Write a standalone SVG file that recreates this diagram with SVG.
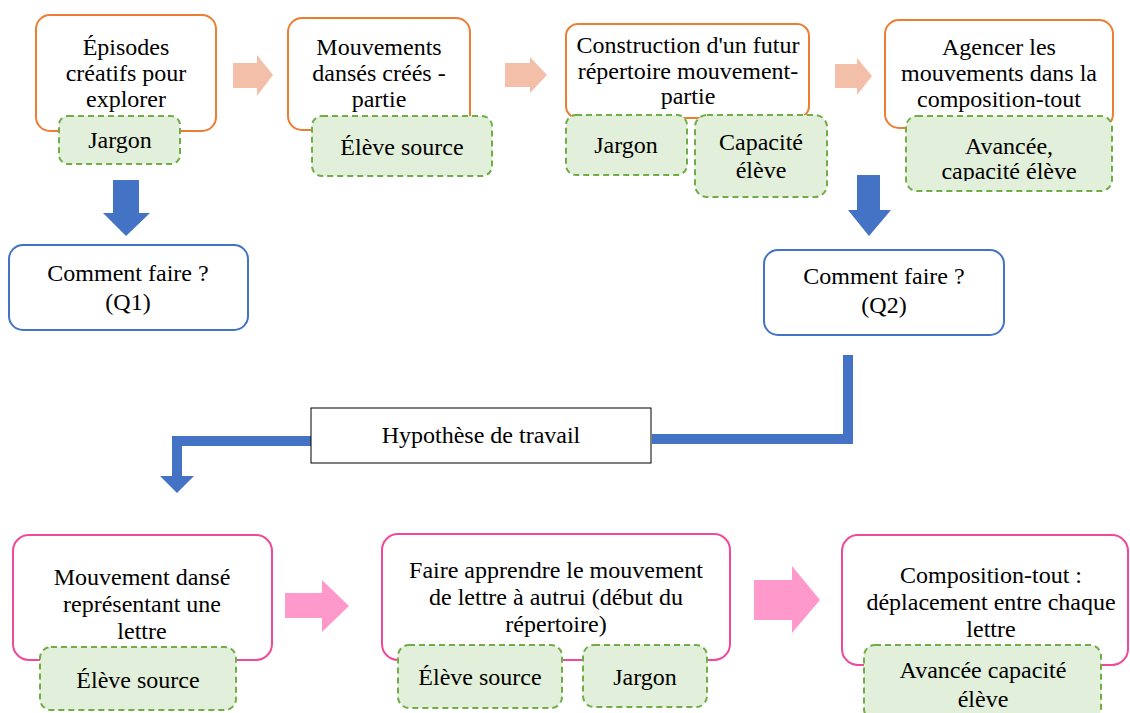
<svg xmlns="http://www.w3.org/2000/svg" width="1130" height="713" viewBox="0 0 1130 713">
<style>
.t{font-family:'Liberation Serif',serif;font-size:24px;fill:#000}
.o{fill:#fff;stroke:#ED7D31;stroke-width:2}
.p{fill:#fff;stroke:#F0489A;stroke-width:2}
.b{fill:#fff;stroke:#4472C4;stroke-width:2}
.g{fill:#E2EFDA;stroke:#70AD47;stroke-width:2;stroke-dasharray:6 4}
.sa{fill:#F4BFA8}
.pa{fill:#FF99CC}
.ba{fill:#4472C4}
.h{fill:#fff;stroke:#000;stroke-width:1}
</style>
<defs>
<clipPath id="c1"><rect x="906" y="116" width="206" height="65"/></clipPath>
</defs>
<rect width="1130" height="713" fill="#fff"/>
<g id="connectors">
<polygon class="sa" points="233,63 257,63 257,55 273,75 257,96 257,88 233,88"/>
<polygon class="sa" points="505,63 530,63 530,57 547,75 530,93 530,87 505,87"/>
<polygon class="sa" points="835,64 857,64 857,58 872,76 857,95 857,88 835,88"/>
<polygon class="ba" points="113,180 139,180 139,213 150,213 126,236 103,213 113,213"/>
<polygon class="ba" points="857,175 880,175 880,210 891,210 869,236 848,210 857,210"/>
<polyline points="848,355 848,439 652,439" fill="none" stroke="#4472C4" stroke-width="10"/>
<polyline points="311,441 177,441 177,478" fill="none" stroke="#4472C4" stroke-width="10"/>
<polygon class="ba" points="160,476 194,476 177,493"/>
<polygon class="pa" points="285,593 322,593 322,580 349,606 322,632 322,618 285,618"/>
<polygon class="pa" points="754,580 792,580 792,566 820,600 792,633 792,620 754,620"/>
</g>
<g id="n1">
<rect class="o" x="36" y="15" width="180" height="116" rx="14"/>
<text class="t" text-anchor="middle" x="126" y="55">Épisodes</text>
<text class="t" text-anchor="middle" x="126" y="81">créatifs pour</text>
<text class="t" text-anchor="middle" x="126" y="107">explorer</text>
</g>
<g id="t1">
<rect class="g" x="59" y="116" width="121" height="48" rx="9"/>
<text class="t" text-anchor="middle" x="120" y="148">Jargon</text>
</g>
<g id="n2">
<rect class="o" x="288" y="18" width="182" height="112" rx="14"/>
<text class="t" text-anchor="middle" x="379" y="55">Mouvements</text>
<text class="t" text-anchor="middle" x="379" y="81">dansés créés -</text>
<text class="t" text-anchor="middle" x="379" y="107">partie</text>
</g>
<g id="t2">
<rect class="g" x="312" y="116" width="180" height="60" rx="10"/>
<text class="t" text-anchor="middle" x="402" y="155">Élève source</text>
</g>
<g id="n3">
<rect class="o" x="566" y="24" width="243" height="94" rx="12"/>
<text class="t" text-anchor="middle" x="688" y="53">Construction d'un futur</text>
<text class="t" text-anchor="middle" x="688" y="79">répertoire mouvement-</text>
<text class="t" text-anchor="middle" x="688" y="104">partie</text>
</g>
<g id="t3">
<rect class="g" x="566" y="115" width="121" height="60" rx="10"/>
<text class="t" text-anchor="middle" x="626" y="153">Jargon</text>
</g>
<g id="t4">
<rect class="g" x="695" y="115" width="132" height="82" rx="12"/>
<text class="t" text-anchor="middle" x="761" y="150">Capacité</text>
<text class="t" text-anchor="middle" x="761" y="178">élève</text>
</g>
<g id="n4">
<rect class="o" x="885" y="20" width="228" height="108" rx="14"/>
<text class="t" text-anchor="middle" x="999" y="55">Agencer les</text>
<text class="t" text-anchor="middle" x="999" y="81">mouvements dans la</text>
<text class="t" text-anchor="middle" x="999" y="107">composition-tout</text>
</g>
<g id="t5">
<rect class="g" x="906" y="116" width="206" height="75" rx="11"/>
<g clip-path="url(#c1)">
<text class="t" text-anchor="middle" x="1009" y="154">Avancée,</text>
<text class="t" text-anchor="middle" x="1009" y="179">capacité élève</text>
</g>
</g>
<g id="q1">
<rect class="b" x="9" y="245" width="239" height="85" rx="14"/>
<text class="t" text-anchor="middle" x="128" y="281">Comment faire ?</text>
<text class="t" text-anchor="middle" x="128" y="310">(Q1)</text>
</g>
<g id="q2">
<rect class="b" x="764" y="250" width="240" height="85" rx="14"/>
<text class="t" text-anchor="middle" x="884" y="284">Comment faire ?</text>
<text class="t" text-anchor="middle" x="884" y="313">(Q2)</text>
</g>
<g id="hyp">
<rect class="h" x="311" y="408" width="340" height="55"/>
<text class="t" text-anchor="middle" x="481" y="443">Hypothèse de travail</text>
</g>
<g id="n5">
<rect class="p" x="13" y="535" width="259" height="125" rx="16"/>
<text class="t" text-anchor="middle" x="142" y="585">Mouvement dansé</text>
<text class="t" text-anchor="middle" x="142" y="612">représentant une</text>
<text class="t" text-anchor="middle" x="142" y="639">lettre</text>
</g>
<g id="t6">
<rect class="g" x="40" y="647" width="196" height="63" rx="11"/>
<text class="t" text-anchor="middle" x="138" y="688">Élève source</text>
</g>
<g id="n6">
<rect class="p" x="382" y="534" width="348" height="126" rx="16"/>
<text class="t" text-anchor="middle" x="556" y="578">Faire apprendre le mouvement</text>
<text class="t" text-anchor="middle" x="556" y="605">de lettre à autrui (début du</text>
<text class="t" text-anchor="middle" x="556" y="632">répertoire)</text>
</g>
<g id="t7">
<rect class="g" x="398" y="645" width="164" height="63" rx="11"/>
<text class="t" text-anchor="middle" x="480" y="685">Élève source</text>
</g>
<g id="t8">
<rect class="g" x="583" y="645" width="124" height="62" rx="11"/>
<text class="t" text-anchor="middle" x="645" y="685">Jargon</text>
</g>
<g id="n7">
<rect class="p" x="842" y="535" width="286" height="130" rx="16"/>
<text class="t" text-anchor="middle" x="991" y="583">Composition-tout :</text>
<text class="t" text-anchor="middle" x="991" y="610">déplacement entre chaque</text>
<text class="t" text-anchor="middle" x="991" y="637">lettre</text>
</g>
<g id="t9">
<rect class="g" x="864" y="645" width="237" height="75" rx="11"/>
<text class="t" text-anchor="middle" x="983" y="678">Avancée capacité</text>
<text class="t" text-anchor="middle" x="983" y="707">élève</text>
</g>
</svg>
